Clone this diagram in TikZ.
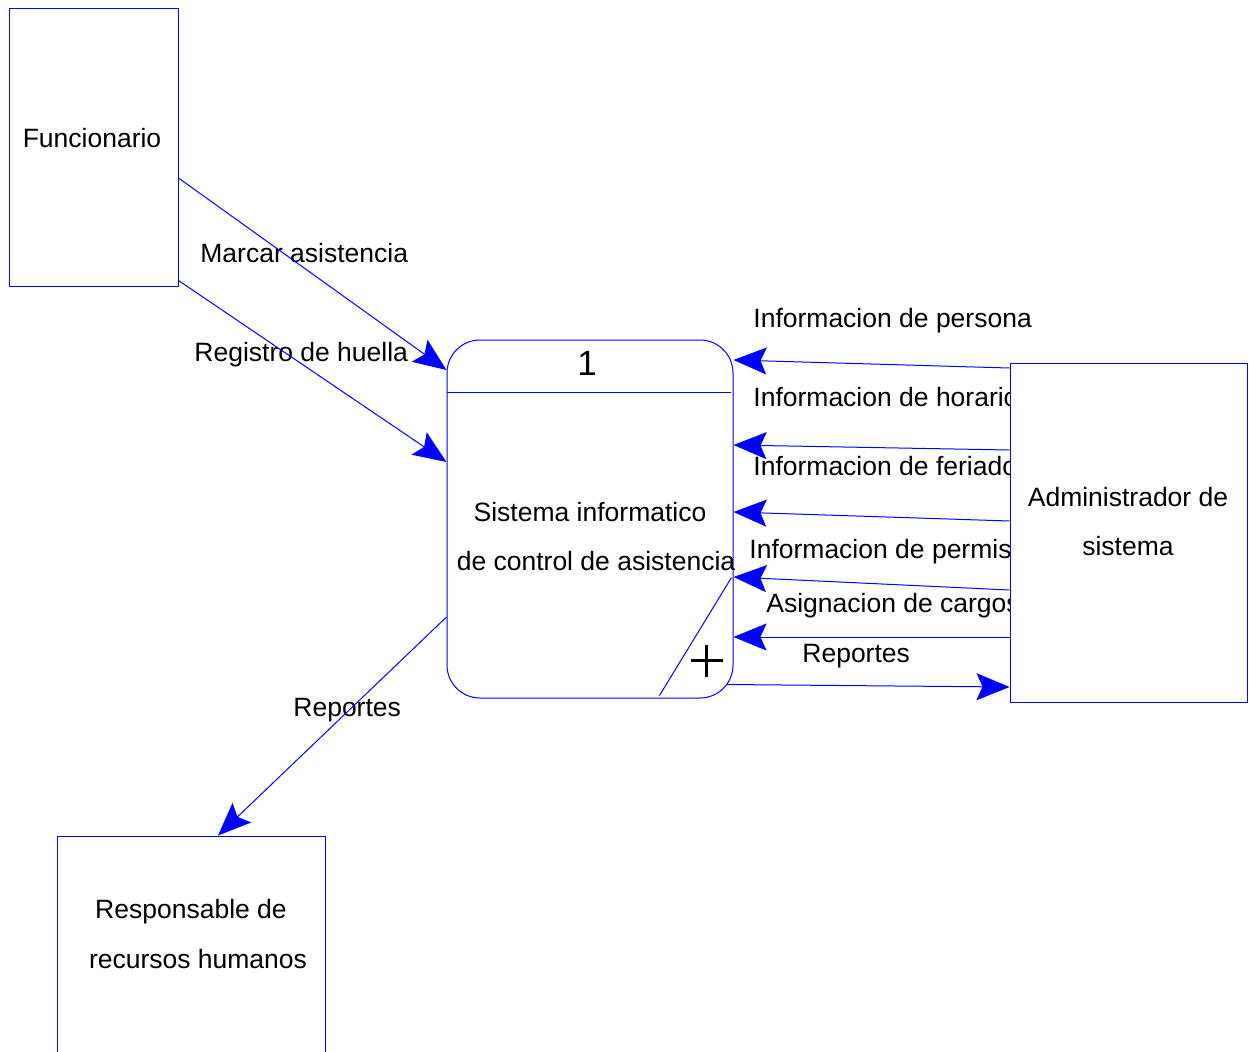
\documentclass[tikz,border=0pt]{standalone}
\usepackage{fontspec}
\setmainfont{Liberation Sans}
\usetikzlibrary{arrows.meta}
\pgfdeclarelayer{labels}
\pgfsetlayers{labels,main}
\begin{document}
\begin{tikzpicture}[x=0.5pt,y=-0.5pt,
  font=\fontsize{13.25}{16}\selectfont,
  entity/.style={draw=blue,line width=0.5pt,fill=white,inner sep=0},
  flow/.style={draw=blue,line width=0.5pt,-{Stealth[length=16.5pt,width=13.5pt,inset=3pt]}},
  detail/.style={draw=blue,line width=0.5pt},
  plusmark/.style={draw=black,line width=1.1pt},
  txt/.style={inner sep=0,anchor=base},
  flowlabel/.style={inner sep=0,anchor=base west}]
\useasboundingbox (0,0) rectangle (1249,1051);

% external entities and the process
\node[entity,minimum width=84.5pt,minimum height=139pt] (func) at (93.5,147) {};
\node[entity,rounded corners=16.5pt,minimum width=143pt,minimum height=179pt] (proc) at (590,519) {};
\node[entity,minimum width=118.5pt,minimum height=169.5pt] (admin) at (1128.5,532.5) {};
\node[entity,minimum width=134pt,minimum height=110pt] (resp) at (191,946) {};

% texts inside the shapes
\node[txt] (funcT) at (92,147) {Funcionario};
\node[txt,font=\fontsize{17.5}{20}\selectfont] (procN) at (587,375) {1};
\node[txt] (procT1) at (590,521) {Sistema informatico};
\node[txt] (procT2) at (596,570) {de control de asistencia};
\node[txt] (adminT1) at (1128,506.5) {Administrador de};
\node[txt] (adminT2) at (1128,555.5) {sistema};
\node[txt] (respT1) at (191,918.5) {Responsable de};
\node[txt] (respT2) at (198,968.5) {recursos humanos};

% process header line, corner line and plus sign
\draw[detail] ([yshift=-26.5pt]proc.north west) -- ([yshift=-26.5pt,xshift=-1.5pt]proc.north east);
\draw[detail] ([xshift=-37pt,yshift=1.5pt]proc.south east) -- ([xshift=-1pt,yshift=60.5pt]proc.south east);
\draw[plusmark] ([xshift=-21.5pt,yshift=19pt]proc.south east) -- ([xshift=-5.5pt,yshift=19pt]proc.south east);
\draw[plusmark] ([xshift=-13.5pt,yshift=27pt]proc.south east) -- ([xshift=-13.5pt,yshift=11pt]proc.south east);

% flow labels (kept behind the entity boxes)
\begin{pgfonlayer}{labels}
\node[flowlabel] (lMarcar) at (200,262) {Marcar asistencia};
\node[flowlabel] (lHuella) at (194,361) {Registro de huella};
\node[flowlabel] (lRepRH) at (293,716) {Reportes};
\node[flowlabel] (lPersona) at (753,327) {Informacion de persona};
\node[flowlabel] (lHorario) at (753,406) {Informacion de horario};
\node[flowlabel] (lFeriado) at (753,475) {Informacion de feriado};
\node[flowlabel] (lPermiso) at (749,558) {Informacion de permiso};
\node[flowlabel] (lCargos) at (766,612) {Asignacion de cargos};
\node[flowlabel] (lRepAdm) at (802,662) {Reportes};
\end{pgfonlayer}

% data flows
\draw[flow] ([yshift=-15.5pt]func.east) -- ([yshift=74.5pt]proc.west);
\draw[flow] ([yshift=3pt]func.south east) -- ([yshift=28.5pt]proc.west);
\draw[flow] ([yshift=-49pt]proc.west) -- ([xshift=13.5pt]resp.north);
\draw[flow] ([yshift=82.25pt]admin.west) -- ([yshift=79.5pt]proc.east);
\draw[flow] ([yshift=41.25pt]admin.west) -- ([yshift=37pt]proc.east);
\draw[flow] ([yshift=5.75pt]admin.west) -- ([yshift=3.5pt]proc.east);
\draw[flow] ([yshift=-28.75pt]admin.west) -- ([yshift=-29pt]proc.east);
\draw[flow] ([yshift=-52.25pt]admin.west) -- ([yshift=-59pt]proc.east);
\draw[flow] ([xshift=-3.5pt,yshift=7pt]proc.south east) -- ([yshift=-77.25pt]admin.west);
\end{tikzpicture}
\end{document}
